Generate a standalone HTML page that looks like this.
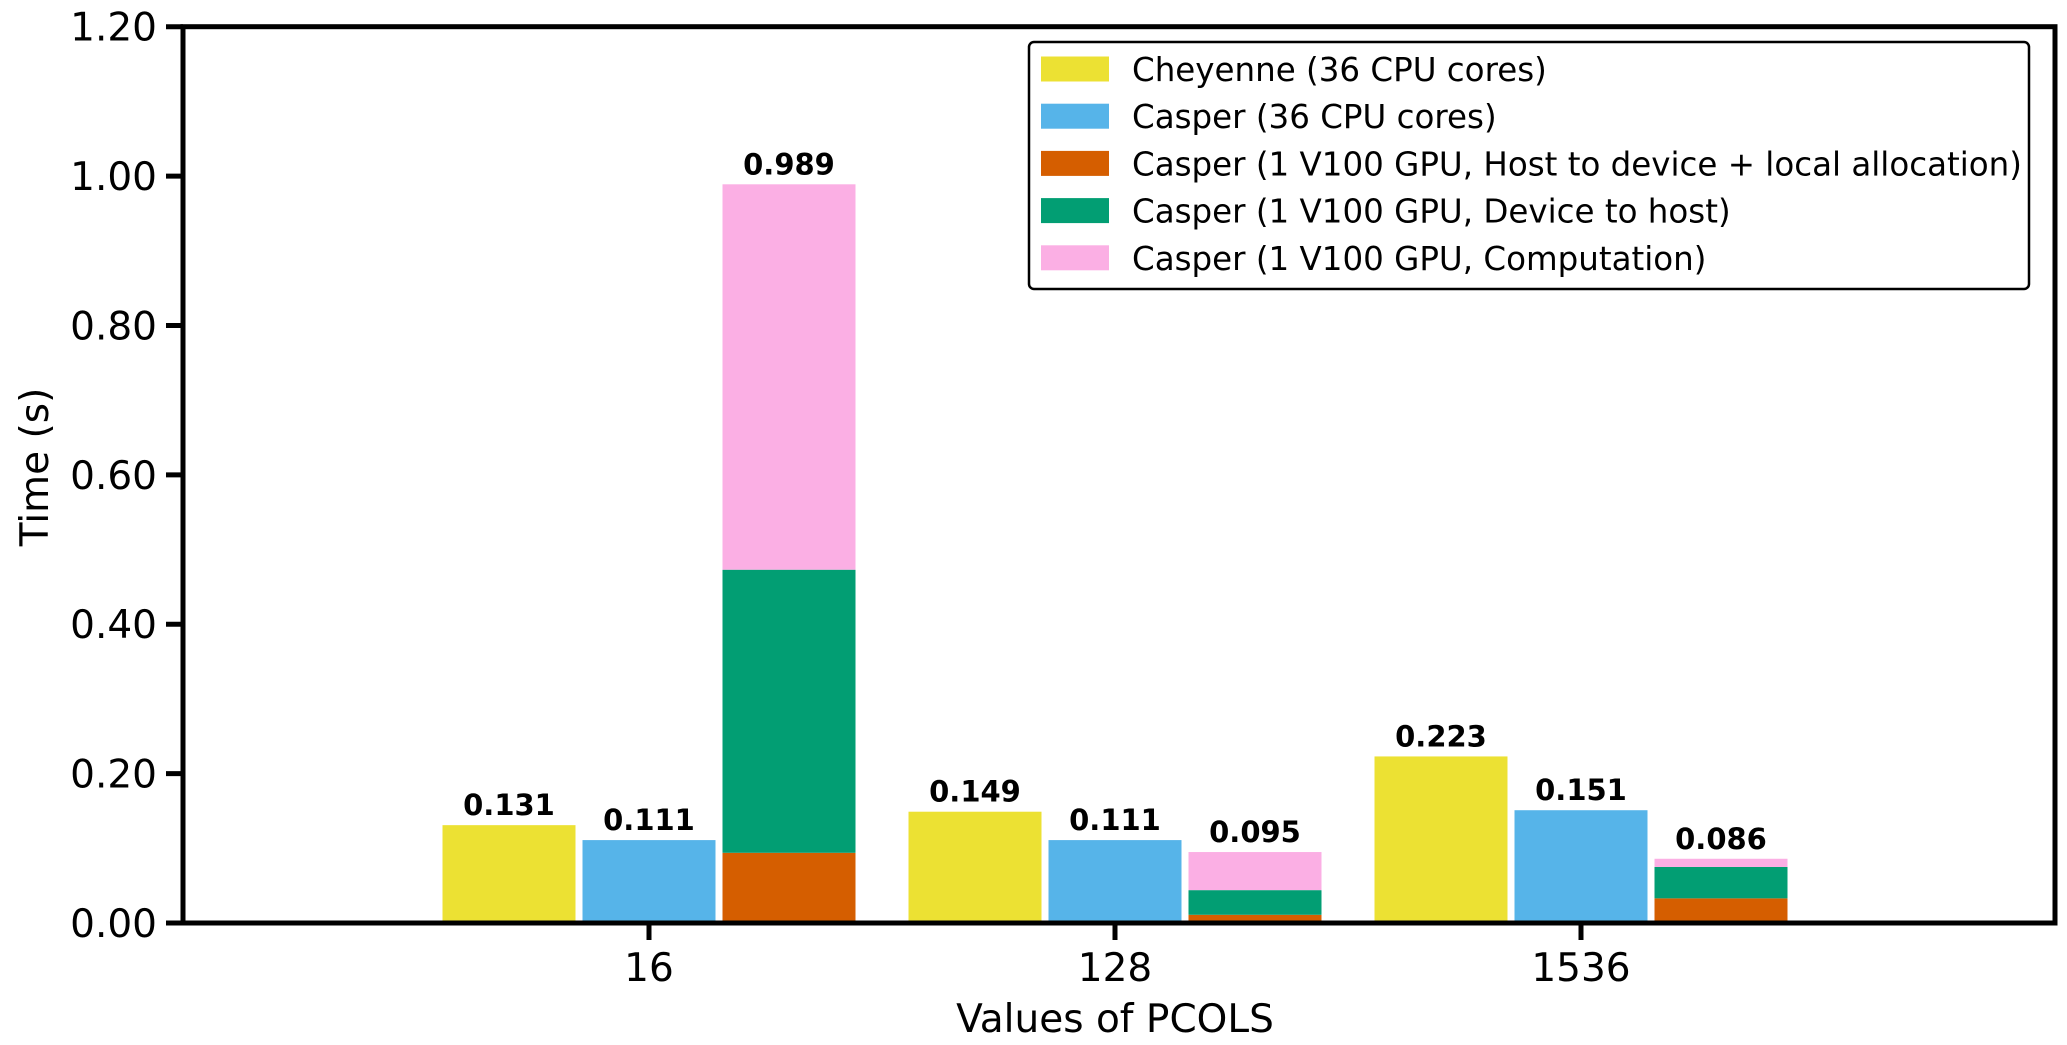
<!DOCTYPE html>
<html><head><meta charset="utf-8"><style>
html,body{margin:0;padding:0;background:#fff;}
svg{display:block;font-family:"DejaVu Sans","Liberation Sans",sans-serif;}
</style></head><body>
<svg id="chart" width="2067" height="1045" viewBox="0 0 2067 1045">
<rect width="2067" height="1045" fill="#fff"/>
<g id="bars"></g><g id="vals"></g><g id="axes"></g><g id="legend"></g>
</svg>
<script>
const categories = ["16","128","1536"];
const cheyenne = [0.131, 0.149, 0.223];
const casperCpu = [0.111, 0.111, 0.151];
const gpuH2D = [0.094, 0.011, 0.033];
const gpuD2H = [0.379, 0.033, 0.042];
const gpuComp = [0.516, 0.051, 0.011];
const gpuTotals = ["0.989","0.095","0.086"];
const yTicks = [0, 0.2, 0.4, 0.6, 0.8, 1.0, 1.2];
const seriesNames = ["Cheyenne (36 CPU cores)","Casper (36 CPU cores)","Casper (1 V100 GPU, Host to device + local allocation)","Casper (1 V100 GPU, Device to host)","Casper (1 V100 GPU, Computation)"];
const colors = ["#ECE133","#56B4E9","#D55E00","#029E73","#FBAFE4"];

const NS="http://www.w3.org/2000/svg";
const L=183,R=2055,T=26.7,B=923;
const y=v=>B-(v/1.2)*(B-T);
const x=i=>649+i*466;
const BW=133, OFF=140;
function mk(tag,attrs,parent,text){const e=document.createElementNS(NS,tag);for(const k in attrs)e.setAttribute(k,attrs[k]);if(text!==undefined)e.textContent=text;parent.appendChild(e);return e;}
const gb=document.getElementById('bars'),gv=document.getElementById('vals'),ga=document.getElementById('axes'),gl=document.getElementById('legend');
function bar(cx,v0,v1,c,name){const r=mk('rect',{x:cx-BW/2,y:y(v1),width:BW,height:y(v0)-y(v1),fill:c},gb);

}
function lab(cx,v,t){const e=mk('text',{x:cx,y:y(v)-10,'text-anchor':'middle','font-size':29,'font-weight':'bold'},gv,t);

}
categories.forEach((c,i)=>{
 const cx=x(i);
 bar(cx-OFF,0,cheyenne[i],colors[0],'bar-cheyenne-'+c);lab(cx-OFF,cheyenne[i],cheyenne[i].toFixed(3));
 bar(cx,0,casperCpu[i],colors[1],'bar-casper-cpu-'+c);lab(cx,casperCpu[i],casperCpu[i].toFixed(3));
 const a=gpuH2D[i],b=a+gpuD2H[i],t=b+gpuComp[i];
 bar(cx+OFF,0,a,colors[2],'bar-gpu-h2d-'+c);
 bar(cx+OFF,a,b,colors[3],'bar-gpu-d2h-'+c);
 bar(cx+OFF,b,t,colors[4],'bar-gpu-comp-'+c);
 lab(cx+OFF,t,gpuTotals[i]);
 const tk=mk('line',{x1:cx,x2:cx,y1:B,y2:B+17,stroke:'#000','stroke-width':5},ga);
 
 
 const tl=mk('text',{x:cx,y:B+58,'text-anchor':'middle','font-size':39},ga,c);
 
 
});
yTicks.forEach(v=>{
 const tk=mk('line',{x1:L-17,x2:L,y1:y(v),y2:y(v),stroke:'#000','stroke-width':5},ga);
 
 
 const tl=mk('text',{x:157,y:y(v)+14,'text-anchor':'end','font-size':39},ga,v.toFixed(2));
 
 
});
const fr=mk('rect',{x:L,y:T,width:R-L,height:B-T,fill:'none',stroke:'#000','stroke-width':5},ga);


const xt=mk('text',{x:x(1),y:1032,'text-anchor':'middle','font-size':39},ga,'Values of PCOLS');


const yt=mk('text',{x:0,y:0,'text-anchor':'middle','font-size':39,transform:'translate(48,467) rotate(-90)'},ga,'Time (s)');


const lb=mk('rect',{x:1029,y:42,width:1000,height:247,rx:5,fill:'#fff',stroke:'#000','stroke-width':2.5},gl);


seriesNames.forEach((n,i)=>{
 const cy=69+i*47.2;
 const p=mk('rect',{x:1041,y:cy-12.5,width:68,height:25,fill:colors[i]},gl);
 
 
 const t=mk('text',{x:1132,y:cy+12,'font-size':32.5},gl,n);
 
 
});
</script>
</body></html>
